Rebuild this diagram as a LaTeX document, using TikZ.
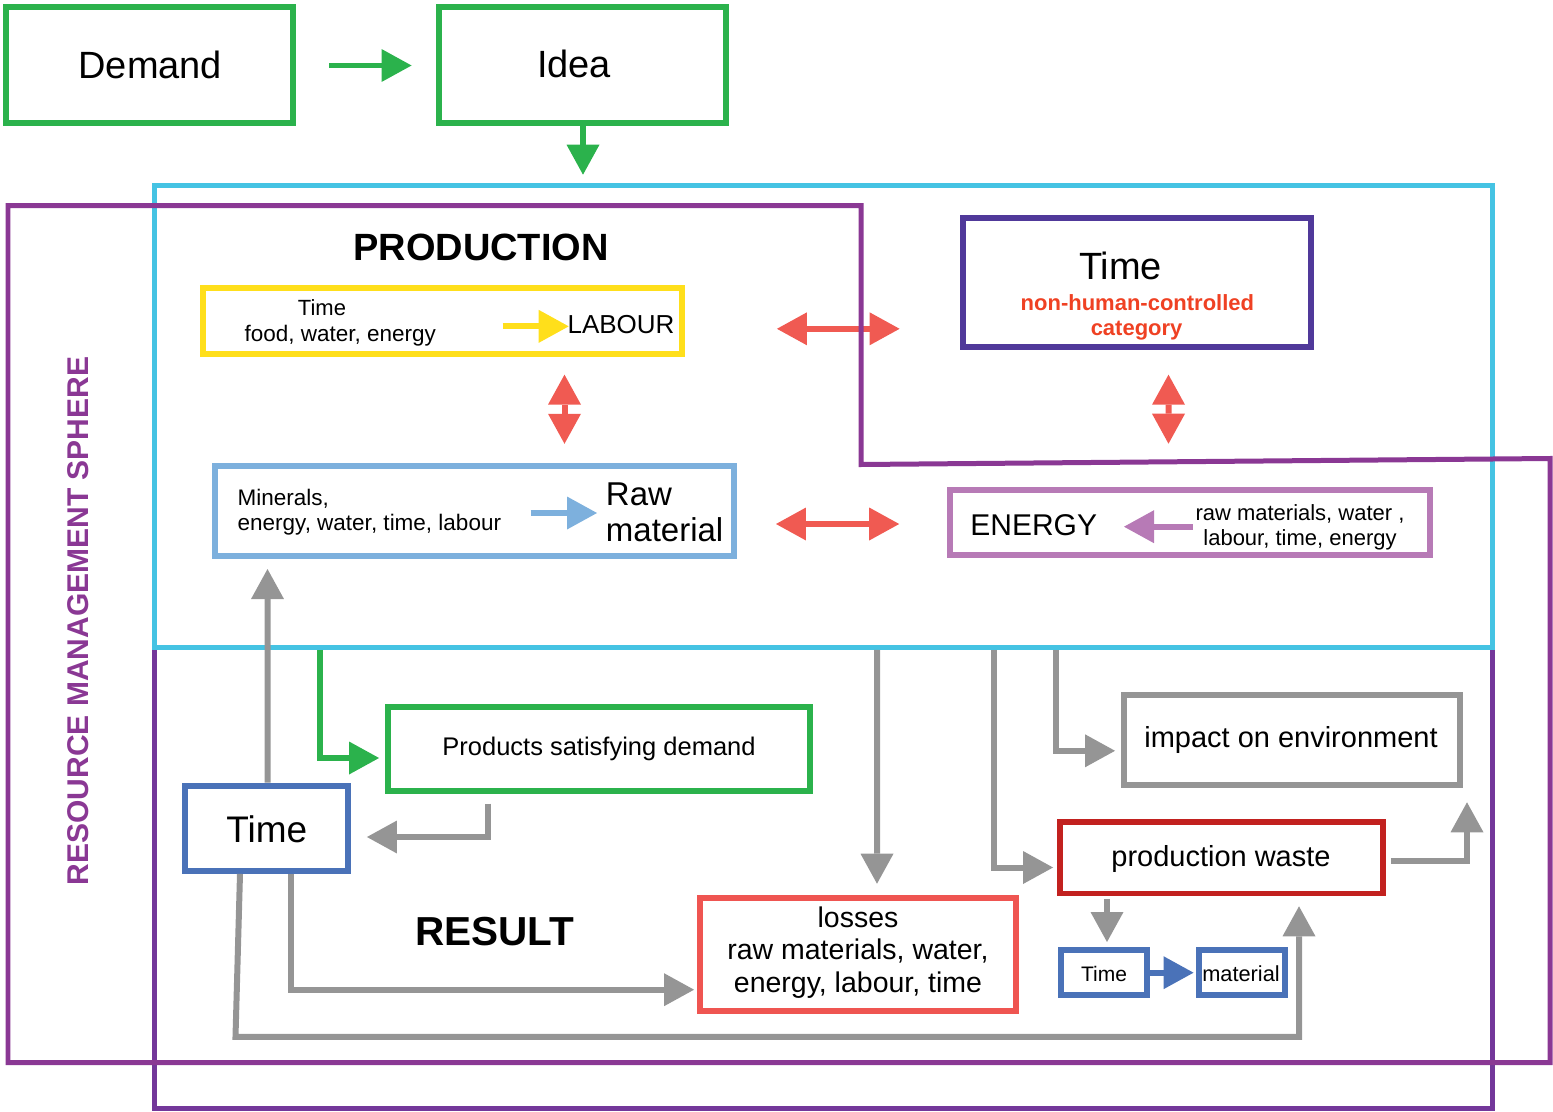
\documentclass[tikz,border=0pt]{standalone}
\usepackage{fontspec}
\setmainfont{Liberation Sans}
\usetikzlibrary{arrows.meta,calc}
\newcommand\fsz[1]{\fontsize{\fpeval{#1*0.569}pt}{\fpeval{#1*0.569*1.2}pt}\selectfont}
\definecolor{cgreen}{HTML}{2BB24C}
\definecolor{ccyan}{HTML}{45C3E3}
\definecolor{csphere}{HTML}{8A3894}
\definecolor{cresult}{HTML}{73379A}
\definecolor{cyellow}{HTML}{FFDF1B}
\definecolor{cred}{HTML}{F05A52}
\definecolor{cindigo}{HTML}{50399A}
\definecolor{corange}{HTML}{EF4123}
\definecolor{clblue}{HTML}{7DB0DD}
\definecolor{corchid}{HTML}{B77AB6}
\definecolor{cgray}{HTML}{959595}
\definecolor{cblue}{HTML}{4A72B8}
\definecolor{closs}{HTML}{EF5551}
\definecolor{cdred}{HTML}{C2211F}
\begin{document}
\begin{tikzpicture}[x=0.02cm,y=-0.02cm,
  nbox/.style={draw=#1, line width=1.2mm, inner sep=0pt},
  framebox/.style={draw=#1, line width=1mm, inner sep=0pt},
  txt/.style={inner sep=0pt, anchor=base, text=black},
  arr/.style={draw=#1, line width=1.2mm, -{Triangle[length=6mm,width=6.6mm,line width=0pt]}},
  darr/.style={draw=#1, line width=1.2mm, {Triangle[length=6mm,width=6.6mm,line width=0pt]}-{Triangle[length=6mm,width=6.6mm,line width=0pt]}}]
\useasboundingbox (0,0) rectangle (1553,1112);

% frames
\node[framebox=cresult, minimum width=267.7mm, minimum height=92.34mm] (resultf) at (823.25,878.15) {};
\node[framebox=ccyan, minimum width=267.7mm, minimum height=92.36mm] (prod) at (823.25,416.4) {};

% top boxes
\node[nbox=cgreen, minimum width=57.6mm, minimum height=23.2mm] (demand) at (149.5,65) {};
\node[txt] (demandT) at (150.3,78.3) {\fsz{38}Demand};
\node[nbox=cgreen, minimum width=57.56mm, minimum height=23.2mm] (idea) at (582.4,65) {};
\node[txt] (ideaT) at (574,77.3) {\fsz{38}Idea};
\draw[arr=cgreen] ($(demand.east)+(33,0.5)$) -- ($(idea.west)+(-24,0.5)$);
\draw[arr=cgreen] ($(idea.south)+(0.6,0)$) -- ++(0,48.7);

% production
\node[txt, font=\bfseries] (prodT) at (481,260) {\fsz{38}PRODUCTION};

\node[nbox=cyellow, minimum width=96mm, minimum height=13.14mm] (labourbox) at (442.5,320.8) {};
\node[txt] (ytime) at (322,315) {\fsz{22}Time};
\node[txt] (yfood) at (340.3,341.7) {\fsz{22.5}food, water, energy};
\node[txt] (labourT) at (621,333.3) {\fsz{26}LABOUR};
\draw[arr=cyellow] ($(labourT.west)+(-64.5,2)$) -- ($(labourT.west)+(1.5,2)$);

\node[nbox=cindigo, minimum width=69.5mm, minimum height=25.8mm] (timeN) at (1136.8,282.8) {};
\node[txt] (timeNT) at (1120.5,279) {\fsz{38}Time};
\node[txt, text=corange, font=\bfseries] (nhc) at (1137.4,310) {\fsz{22}non-human-controlled};
\node[txt, text=corange, font=\bfseries] (cat) at (1136.6,335) {\fsz{22}category};

\node[nbox=clblue, minimum width=103.7mm, minimum height=17.94mm] (rawbox) at (474.3,511.2) {};
\node[txt, anchor=base west] (minT) at (237.3,505) {\fsz{22.5}Minerals,};
\node[txt, anchor=base west] (ewtT) at (237.3,530) {\fsz{22.5}energy, water, time, labour};
\node[txt, anchor=base west] (rawT) at (605.6,505) {\fsz{33}Raw};
\node[txt, anchor=base west] (matT) at (605.6,541.7) {\fsz{33}material};
\draw[arr=clblue] ($(rawbox.center)+(56.2,1.8)$) -- ($(rawbox.center)+(122.7,1.8)$);

\node[nbox=corchid, minimum width=95.94mm, minimum height=13mm] (energybox) at (1189.8,522.5) {};
\node[txt, anchor=base west] (energyT) at (970,535) {\fsz{30}ENERGY};
\node[txt] (erT1) at (1300,520) {\fsz{22}raw materials, water ,};
\node[txt] (erT2) at (1300,545) {\fsz{22}labour, time, energy};
\draw[arr=corchid] ($(energybox.center)+(2.7,4.2)$) -- ($(energybox.center)+(-65.8,4.2)$);

\draw[darr=cred] ($(labourbox.east)+(91.5,8)$) -- ($(timeN.west)+(-60.5,46)$);
\draw[darr=cred] ($(labourbox.south)+(122,18)$) -- ($(rawbox.north)+(90.2,-19.6)$);
\draw[darr=cred] ($(timeN.south)+(31.7,24.4)$) -- ($(energybox.north)+(-21.3,-43.3)$);
\draw[darr=cred] ($(rawbox.east)+(39.5,12.8)$) -- ($(energybox.west)+(-47.8,1.5)$);

% result
\node[nbox=cgreen, minimum width=84.32mm, minimum height=16.74mm] (products) at (598.8,749.2) {};
\node[txt] (productsT) at (599,755.5) {\fsz{25.5}Products satisfying demand};
\node[nbox=cblue, minimum width=32.68mm, minimum height=17.06mm] (timeL) at (266.3,828.3) {};
\node[txt] (timeLT) at (266.8,842) {\fsz{37}Time};
\node[txt, font=\bfseries] (resultT) at (494.5,945) {\fsz{40.5}RESULT};

\node[nbox=closs, minimum width=63.2mm, minimum height=22.6mm] (losses) at (858,954.5) {};
\node[txt] (lossT1) at (858,927) {\fsz{28.5}losses};
\node[txt] (lossT2) at (858,959.5) {\fsz{28.5}raw materials, water,};
\node[txt] (lossT3) at (858,992) {\fsz{28.5}energy, labour, time};

\node[nbox=cgray, minimum width=67.3mm, minimum height=18mm] (impact) at (1292,740) {};
\node[txt] (impactT) at (1291,747) {\fsz{29}impact on environment};
\node[nbox=cdred, minimum width=64.8mm, minimum height=14.4mm] (waste) at (1221.5,857.5) {};
\node[txt] (wasteT) at (1221,866.7) {\fsz{29}production waste};
\node[nbox=cblue, minimum width=17.2mm, minimum height=9mm] (tsmall) at (1104,972.7) {};
\node[txt] (tsT) at (1104,981) {\fsz{21}Time};
\node[nbox=cblue, minimum width=17.2mm, minimum height=9mm] (msmall) at (1241.7,972.7) {};
\node[txt] (msT) at (1241,981) {\fsz{21.8}material};

\draw[arr=cgreen] ($(prod.south)+(-503.25,0)$) |- ($(products.west)+(-6,8.8)$);
\draw[arr=cgray] ($(timeL.north)+(1.2,0)$) -- ($(rawbox.south)+(-206.8,10)$);
\draw[arr=cgray] ($(products.south)+(-110.4,9.6)$) |- ($(timeL.east)+(16,8.7)$);
\draw[arr=cgray] ($(timeL.south)+(24.7,0)$) |- ($(losses.west)+(-3,35.2)$);
\draw[arr=cgray] ($(timeL.south)+(-26.3,0)$) -- ++(-4.5,163) -| ($(waste.south)+(77.5,9.8)$);
\draw[arr=cgray] ($(prod.south)+(53.75,0)$) -- ($(losses.north)+(19,-11.3)$);
\draw[arr=cgray] ($(prod.south)+(170.75,0)$) |- ($(waste.west)+(-3.5,10)$);
\draw[arr=cgray] ($(prod.south)+(232.75,0)$) |- ($(impact.west)+(-5.75,10.8)$);
\draw[arr=cgray] ($(waste.east)+(4.5,3)$) -| ($(impact.south)+(175,14.3)$);
\draw[arr=cgray] ($(waste.south)+(-114.5,2.5)$) -- ($(tsmall.north)+(3,-5.2)$);
\draw[arr=cblue] (tsmall.east) -- ($(msmall.west)+(-2.2,0)$);

% resource management sphere
\draw[draw=csphere, line width=1mm] (8,205.5) -- (861,205.5) -- (861,464.5) -- (1550,458.5) -- (1550,1062.5) -- (8,1062.5) -- cycle;
\node[inner sep=0pt, rotate=90, text=csphere, font=\bfseries] (sphereT) at (78,621) {\fsz{30}RESOURCE MANAGEMENT SPHERE};
\end{tikzpicture}
\end{document}
